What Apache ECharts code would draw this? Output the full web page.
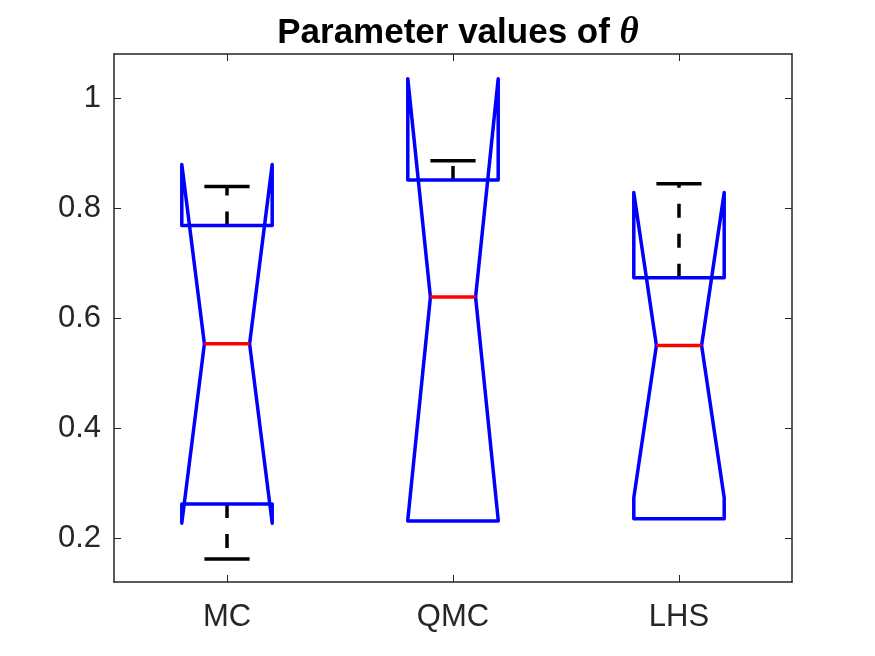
<!DOCTYPE html>
<html>
<head>
<meta charset="utf-8">
<script src="https://cdn.jsdelivr.net/npm/echarts@6/dist/echarts.min.js"></script>
<style>
  html, body { margin: 0; padding: 0; background: #fff; }
  #chart { width: 875px; height: 656px; }
</style>
</head>
<body>
<div id="chart"></div>
<script>
// box statistics
var categories = ['MC', 'QMC', 'LHS'];
var whiskerLow  = [0.162, 0.231, 0.235];
var q1          = [0.262, 0.231, 0.235];
var median      = [0.553, 0.638, 0.550];
var q3          = [0.768, 0.851, 0.673];
var whiskerHigh = [0.839, 0.886, 0.844];
var notchLow    = [0.227, 0.233, 0.273];
var notchHigh   = [0.879, 1.035, 0.828];
var yTicks = [0.2, 0.4, 0.6, 0.8, 1];

var textColor = '#262626';
var tickFont = 'Liberation Sans, Arial, sans-serif';
var lw = 3.5;

var boxData = categories.map(function (c, i) {
  return [i, whiskerLow[i], q1[i], median[i], q3[i], whiskerHigh[i], notchLow[i], notchHigh[i]];
});

function renderBox(params, api) {
  var i = api.value(0);
  var band = api.size([1, 0])[0];
  var hw = band * 0.2;   // half box width
  var nw = hw / 2;       // half notch width
  var cx = api.coord([i, 0])[0];
  function y(v) { return api.coord([i, v])[1]; }

  var wLo = api.value(1), b1 = api.value(2), md = api.value(3),
      b3 = api.value(4), wHi = api.value(5), nLo = api.value(6), nHi = api.value(7);

  var dash = { stroke: '#000', lineWidth: lw, lineDash: [14, 16] };
  var solid = { stroke: '#000', lineWidth: lw };
  var children = [];

  if (wHi > b3) {
    children.push({ type: 'line', shape: { x1: cx, y1: y(b3), x2: cx, y2: y(wHi) }, style: dash });
    children.push({ type: 'line', shape: { x1: cx - nw, y1: y(wHi), x2: cx + nw, y2: y(wHi) }, style: solid });
  }
  if (wLo < b1) {
    children.push({ type: 'line', shape: { x1: cx, y1: y(b1), x2: cx, y2: y(wLo) }, style: dash });
    children.push({ type: 'line', shape: { x1: cx - nw, y1: y(wLo), x2: cx + nw, y2: y(wLo) }, style: solid });
  }

  // notched outline
  var pts = [
    [cx - hw, y(b1)], [cx - hw, y(nLo)], [cx - nw, y(md)], [cx - hw, y(nHi)], [cx - hw, y(b3)],
    [cx + hw, y(b3)], [cx + hw, y(nHi)], [cx + nw, y(md)], [cx + hw, y(nLo)], [cx + hw, y(b1)]
  ];
  children.push({
    type: 'polygon',
    shape: { points: pts },
    style: { fill: 'none', stroke: '#0000ff', lineWidth: lw, lineJoin: 'round' }
  });

  children.push({
    type: 'line',
    shape: { x1: cx - nw, y1: y(md), x2: cx + nw, y2: y(md) },
    style: { stroke: '#ff0000', lineWidth: lw }
  });

  return { type: 'group', children: children };
}

var chart = echarts.init(document.getElementById('chart'));

chart.setOption({
  backgroundColor: '#fff',
  animation: false,
  title: {
    left: 453,
    top: 10,
    textAlign: 'center',
    text: '{b|Parameter values of }{t|θ}',
    textStyle: {
      rich: {
        b: { fontFamily: 'Liberation Sans, Arial, sans-serif', fontWeight: 'bold', fontSize: 35, color: '#000' },
        t: { fontFamily: 'Liberation Serif, Times New Roman, serif', fontStyle: 'italic', fontSize: 37, color: '#000' }
      }
    }
  },
  grid: { left: 114, right: 83, top: 54, bottom: 74 },
  xAxis: [{
    type: 'category',
    data: categories,
    position: 'bottom',
    boundaryGap: true,
    axisLine: { show: true, lineStyle: { color: textColor, width: 1.5 } },
    axisTick: { show: true, inside: true, alignWithLabel: true, length: 7, lineStyle: { color: textColor } },
    axisLabel: { color: textColor, fontFamily: tickFont, fontSize: 31, margin: 20 },
    splitLine: { show: false }
  }, {
    type: 'category',
    data: categories,
    position: 'top',
    boundaryGap: true,
    axisLine: { show: true, lineStyle: { color: textColor, width: 1.5 } },
    axisTick: { show: true, inside: true, alignWithLabel: true, length: 7, lineStyle: { color: textColor } },
    axisLabel: { show: false },
    splitLine: { show: false }
  }],
  yAxis: [{
    type: 'value',
    min: 0.12,
    max: 1.08,
    position: 'left',
    axisLine: { show: true, lineStyle: { color: textColor, width: 1.5 } },
    axisTick: { show: true, inside: true, length: 7, customValues: yTicks, lineStyle: { color: textColor } },
    axisLabel: { color: textColor, fontFamily: tickFont, fontSize: 31, margin: 13, customValues: yTicks },
    splitLine: { show: false }
  }, {
    type: 'value',
    min: 0.12,
    max: 1.08,
    position: 'right',
    axisLine: { show: true, lineStyle: { color: textColor, width: 1.5 } },
    axisTick: { show: true, inside: true, length: 7, customValues: yTicks, lineStyle: { color: textColor } },
    axisLabel: { show: false },
    splitLine: { show: false }
  }],
  series: [{
    type: 'custom',
    renderItem: renderBox,
    xAxisIndex: 0,
    yAxisIndex: 0,
    encode: { x: 0, y: [1, 2, 3, 4, 5, 6, 7] },
    data: boxData,
    clip: false
  }]
});
</script>
</body>
</html>
